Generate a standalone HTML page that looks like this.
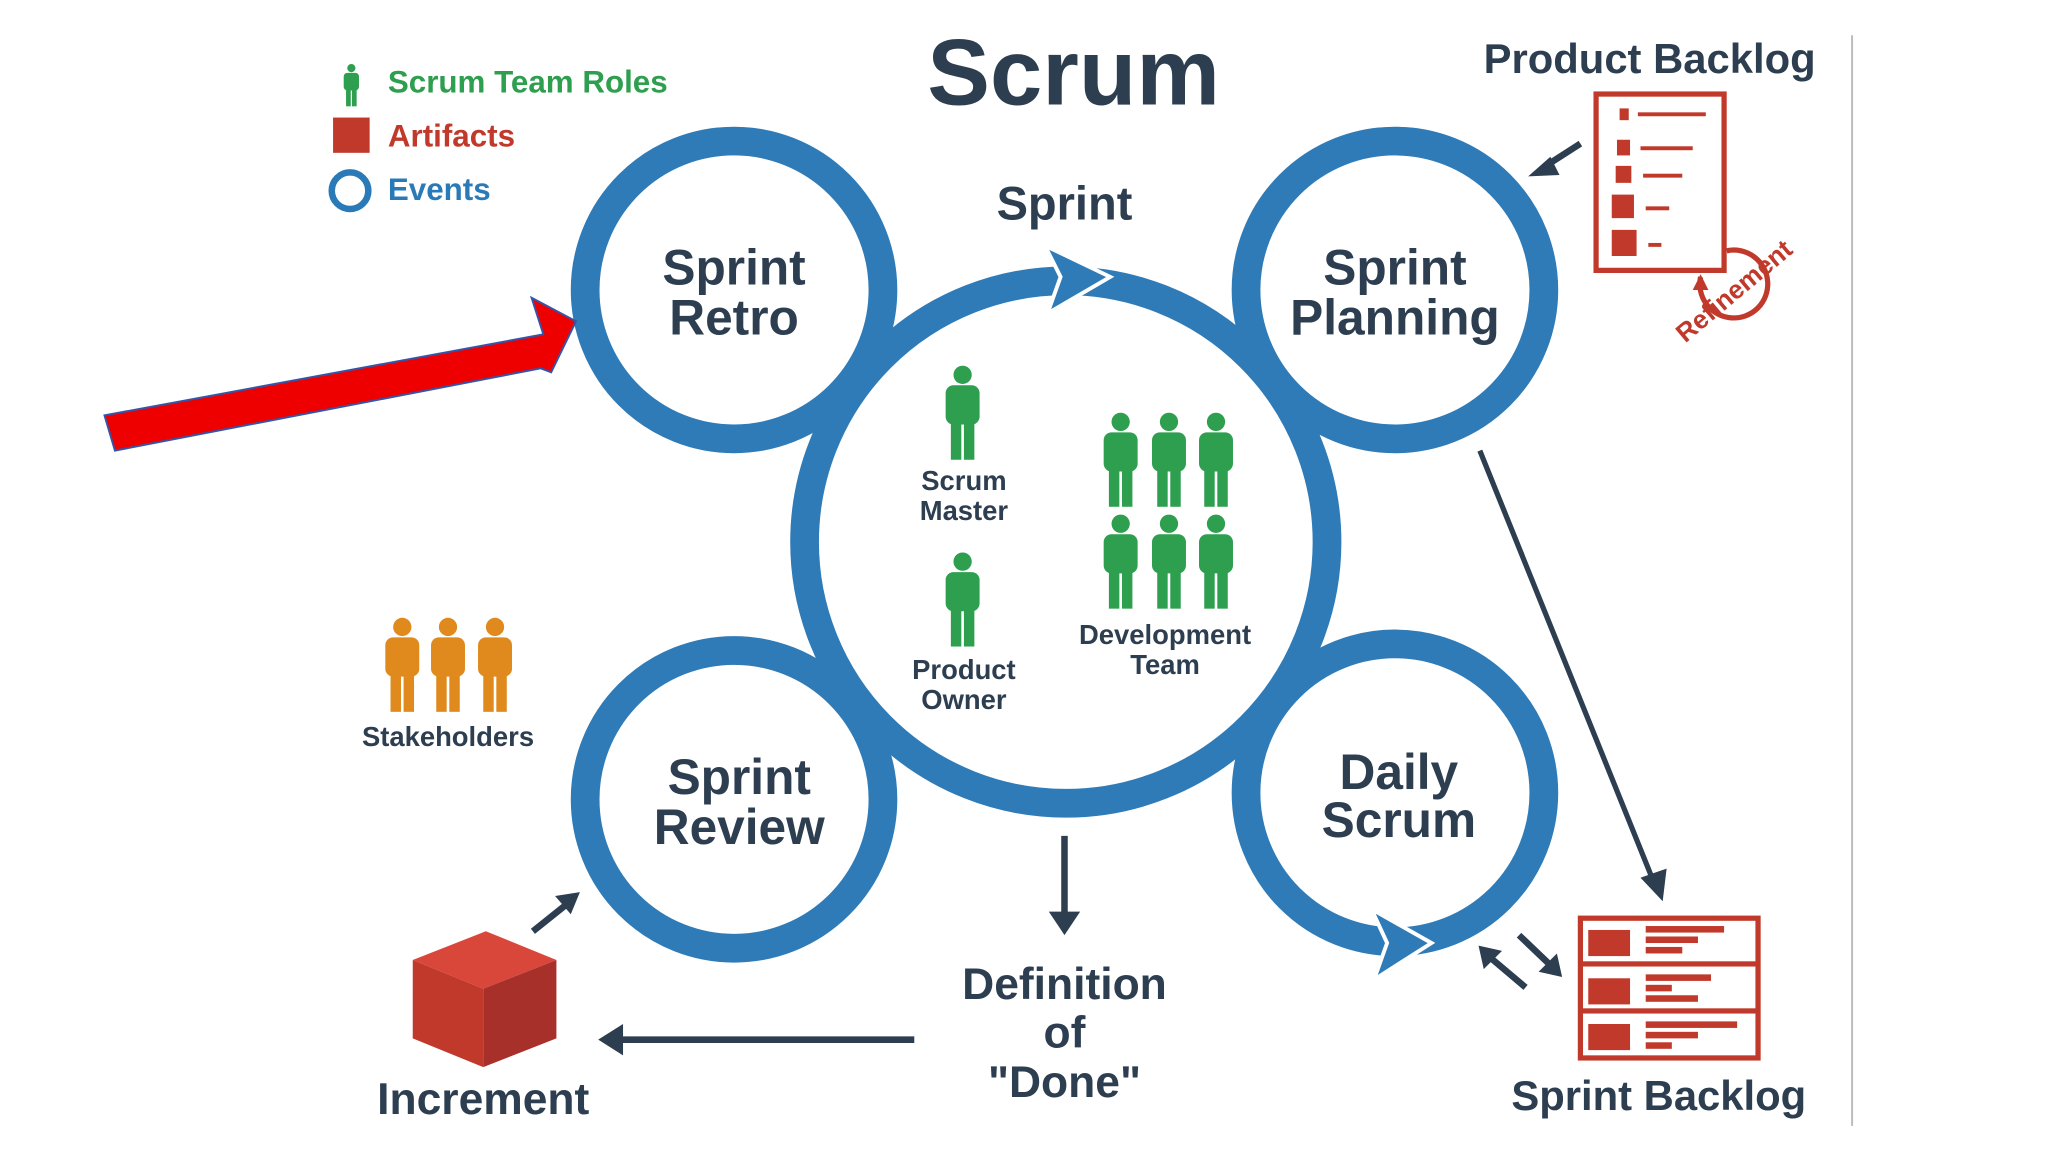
<!DOCTYPE html>
<html><head><meta charset="utf-8"><style>
html,body{margin:0;padding:0;background:#fff;}
svg{display:block;}
text{font-family:"Liberation Sans",sans-serif;font-weight:bold;}
</style></head><body>
<svg width="2048" height="1152" viewBox="0 0 1568 882" xmlns="http://www.w3.org/2000/svg">
<defs>
<g id="p">
<circle cx="0" cy="7" r="7"/>
<rect x="-13" y="15" width="26" height="30" rx="6"/>
<rect x="-9" y="38" width="8" height="34"/>
<rect x="1" y="38" width="8" height="34"/>
</g>
</defs>
<rect width="1568" height="882" fill="#fff"/>
<line x1="1418" y1="27" x2="1418" y2="862" stroke="#bbb" stroke-width="1.5"/>

<!-- legend -->
<g fill="#2e9e4f" transform="translate(269,49) scale(0.45)"><use href="#p"/></g>
<text x="297" y="71" font-size="24" fill="#2e9e4f">Scrum Team Roles</text>
<rect x="255" y="90" width="28" height="27" fill="#c0392b"/>
<text x="297" y="112" font-size="24" fill="#c0392b">Artifacts</text>
<circle cx="268" cy="146" r="14" fill="none" stroke="#2a7ab8" stroke-width="5"/>
<text x="297" y="153" font-size="24" fill="#2a7ab8">Events</text>

<text x="822" y="80" font-size="72" fill="#2d3e50" text-anchor="middle">Scrum</text>

<!-- rings -->
<g fill="none" stroke="#2e7bb8" stroke-width="22">
<circle cx="816" cy="415" r="200"/>
<circle cx="562" cy="222" r="114"/>
<circle cx="1068" cy="222" r="114"/>
<circle cx="562" cy="612" r="114"/>
<circle cx="1068" cy="607" r="114"/>
</g>
<polygon points="800,188 850,212 802,240 812,212" fill="#2e7bb8" stroke="#fff" stroke-width="3"/>
<polygon points="1050,696 1096,722 1052,750 1062,722" fill="#2e7bb8" stroke="#fff" stroke-width="3"/>

<!-- circle labels -->
<g font-size="38" fill="#2d3e50" text-anchor="middle">
<text x="562" y="218">Sprint</text><text x="562" y="256">Retro</text>
<text x="1068" y="218">Sprint</text><text x="1068" y="256">Planning</text>
<text x="566" y="608">Sprint</text><text x="566" y="646">Review</text>
<text x="1071" y="604">Daily</text><text x="1071" y="641">Scrum</text>
<text x="815" y="168" font-size="36">Sprint</text>
<text x="815" y="765" font-size="34">Definition</text>
<text x="815" y="802" font-size="34">of</text>
<text x="815" y="840" font-size="34">"Done"</text>
<text x="370" y="853" font-size="34">Increment</text>
<text x="1263" y="56" font-size="32">Product Backlog</text>
<text x="1270" y="850" font-size="32">Sprint Backlog</text>
</g>

<!-- people -->
<g fill="#2e9e4f">
<use href="#p" x="737" y="280"/>
<use href="#p" x="737" y="423"/>
<use href="#p" x="858" y="316"/><use href="#p" x="895" y="316"/><use href="#p" x="931" y="316"/>
<use href="#p" x="858" y="394"/><use href="#p" x="895" y="394"/><use href="#p" x="931" y="394"/>
</g>
<g fill="#e08a1e">
<use href="#p" x="308" y="473"/><use href="#p" x="343" y="473"/><use href="#p" x="379" y="473"/>
</g>
<g font-size="21" fill="#2d3e50" text-anchor="middle">
<text x="738" y="375">Scrum</text><text x="738" y="398">Master</text>
<text x="738" y="520">Product</text><text x="738" y="543">Owner</text>
<text x="892" y="493">Development</text><text x="892" y="516">Team</text>
<text x="343" y="571">Stakeholders</text>
</g>

<!-- dark arrows -->
<g stroke="#2d3e50" stroke-width="5" fill="#2d3e50">
<line x1="815" y1="640" x2="815" y2="700"/>
<polygon points="803,698 827,698 815,716" stroke="none"/>
<line x1="700" y1="796" x2="475" y2="796"/>
<polygon points="477,784 477,808 458,796" stroke="none"/>
<line x1="1133" y1="345" x2="1266" y2="675" stroke-width="4"/>
<polygon points="1256,672 1276,665 1273,690" stroke="none"/>
<line x1="408" y1="713" x2="433" y2="693"/>
<polygon points="425,686 444,683 437,700" stroke="none"/>
<line x1="1210" y1="110" x2="1182" y2="128"/>
<polygon points="1187,120 1170,135 1194,134" stroke="none"/>
<line x1="1168" y1="756" x2="1142" y2="734"/>
<polygon points="1132,724 1150,728 1136,742" stroke="none"/>
<line x1="1163" y1="716" x2="1186" y2="738"/>
<polygon points="1196,748 1178,744 1192,730" stroke="none"/>
</g>

<!-- product backlog doc -->
<g fill="#c0392b">
<rect x="1222" y="72" width="98" height="135" fill="none" stroke="#c0392b" stroke-width="4"/>
<rect x="1240" y="83" width="7" height="9"/><rect x="1254" y="86" width="52" height="3"/>
<rect x="1238" y="107" width="10" height="12"/><rect x="1256" y="112" width="40" height="3"/>
<rect x="1237" y="127" width="12" height="13"/><rect x="1258" y="133" width="30" height="3"/>
<rect x="1234" y="149" width="17" height="18"/><rect x="1260" y="158" width="18" height="3"/>
<rect x="1234" y="176" width="19" height="20"/><rect x="1262" y="186" width="10" height="3"/>
</g>
<path d="M1322,192 A26 26 0 1 1 1302,212" fill="none" stroke="#c0392b" stroke-width="4"/>
<polygon points="1296,222 1308,222 1302,210" fill="#c0392b"/>
<text x="1332" y="228" font-size="20" fill="#c0392b" text-anchor="middle" transform="rotate(-40 1332 228)">Refinement</text>

<!-- sprint backlog -->
<g fill="#c0392b">
<rect x="1210" y="703" width="136" height="107" fill="none" stroke="#c0392b" stroke-width="4"/>
<rect x="1210" y="736" width="136" height="4"/><rect x="1210" y="772" width="136" height="4"/>
<rect x="1216" y="712" width="32" height="20"/>
<rect x="1216" y="749" width="32" height="20"/>
<rect x="1216" y="784" width="32" height="20"/>
<rect x="1260" y="709" width="60" height="5"/><rect x="1260" y="717" width="40" height="5"/><rect x="1260" y="725" width="28" height="5"/>
<rect x="1260" y="746" width="50" height="5"/><rect x="1260" y="754" width="20" height="5"/><rect x="1260" y="762" width="40" height="5"/>
<rect x="1260" y="782" width="70" height="5"/><rect x="1260" y="790" width="40" height="5"/><rect x="1260" y="798" width="20" height="5"/>
</g>

<!-- cube -->
<polygon points="316,735 372,713 426,735 370,757" fill="#d9463a"/>
<polygon points="316,735 370,757 370,817 316,795" fill="#c0392b"/>
<polygon points="370,757 426,735 426,795 370,817" fill="#a8302a"/>

<!-- red arrow -->
<polygon points="80,318 416,256 407,228 441,246 422,285 414,282 88,345" fill="#ee0000" stroke="#3355aa" stroke-width="1.5"/>
</svg>
</body></html>
